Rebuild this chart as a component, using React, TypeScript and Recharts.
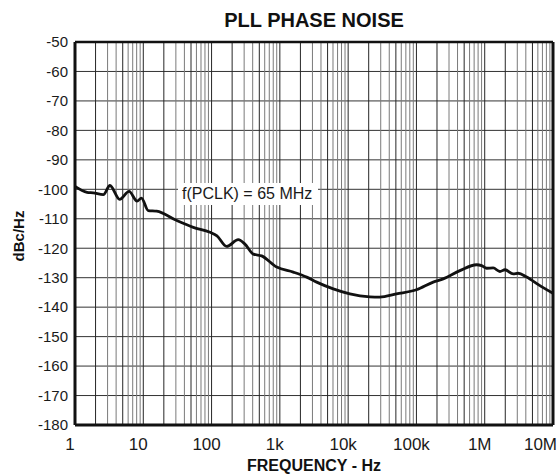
import React from 'react';
import { LineChart, Line, XAxis, YAxis, CartesianGrid, ReferenceLine } from 'recharts';

const chartTitle = 'PLL PHASE NOISE';
const xAxisTitle = 'FREQUENCY - Hz';
const yAxisTitle = 'dBc/Hz';
const annotationText = 'f(PCLK) = 65 MHz';

const frequencyHz = [
  1, 1.5, 1.85, 2.6, 3.25, 4.5, 6.2, 8.1, 9.4, 11.8, 15.7, 31, 54, 95, 120, 166, 246, 308, 410, 540,
  900, 1570, 2470, 3460, 6050, 10600, 20800, 29000, 51000, 100000, 176000, 247000, 433000, 760000,
  900000, 1070000, 1330000, 1670000, 1980000, 2610000, 3090000, 4110000, 6430000, 10000000,
];
const phaseNoise = [
  -99.0, -101.0, -101.2, -101.8, -98.7, -103.4, -100.7, -104.0, -103.0, -107.2, -107.4, -110.6, -112.9,
  -114.6, -115.8, -119.4, -117.1, -118.6, -122.0, -122.6, -126.4, -128.1, -129.8, -131.5, -133.8, -135.5,
  -136.5, -136.6, -135.5, -134.1, -131.5, -130.4, -127.6, -125.6, -125.9, -126.8, -126.7, -127.9, -127.3,
  -128.7, -128.5, -129.8, -132.7, -135.3,
];

const xTicks = [1, 10, 100, 1000, 10000, 100000, 1000000, 10000000];
const xTickLabels = ['1', '10', '100', '1k', '10k', '100k', '1M', '10M'];
const yTicks = [-180, -170, -160, -150, -140, -130, -120, -110, -100, -90, -80, -70, -60, -50];
const gridMultipliers = [2, 3, 4, 5, 6, 7, 8, 9];
const darkMultipliers = [2, 5];

const data = frequencyHz.map((f, i) => ({ f, v: phaseNoise[i] }));

const gridLines: { x: number; dark: boolean }[] = [];
xTicks.forEach((d, i) => {
  if (i > 0) gridLines.push({ x: d, dark: true });
  if (i < xTicks.length - 1) {
    gridMultipliers.forEach((m) => gridLines.push({ x: m * d, dark: darkMultipliers.includes(m) }));
  }
});

const FONT = '"Liberation Sans", Arial, Helvetica, sans-serif';

function XTick(props: any) {
  const { x, y, payload, index } = props;
  const isLast = index === xTicks.length - 1;
  const label = xTickLabels[xTicks.indexOf(payload.value)] ?? '';
  return (
    <text
      x={isLast ? 557 : x - 5}
      y={y}
      dy="0.71em"
      textAnchor={isLast ? 'end' : 'middle'}
      fontFamily={FONT}
      fontSize={17}
      fill="#1a1a1a"
    >
      {label}
    </text>
  );
}

export default function App() {
  return (
    <div style={{ position: 'absolute', left: 0, top: 0, width: 558, height: 475, background: '#fff' }}>
      <LineChart width={558} height={475} data={data} margin={{ top: 42, right: 5, bottom: 0, left: 0 }}>
        <CartesianGrid vertical={false} stroke="#333" strokeWidth={1} />
        {gridLines.map((g) => (
          <ReferenceLine
            key={'g' + g.x}
            x={g.x}
            stroke={g.dark ? '#262626' : '#7a7a7a'}
            strokeWidth={1}
          />
        ))}
        <XAxis
          dataKey="f"
          type="number"
          scale="log"
          domain={[1, 10000000]}
          ticks={xTicks}
          interval={0}
          height={50}
          tickLine={false}
          tickSize={6}
          tickMargin={7}
          axisLine={{ stroke: '#111', strokeWidth: 3 }}
          tick={<XTick />}
        />
        <YAxis
          type="number"
          domain={[-180, -50]}
          ticks={yTicks}
          interval={0}
          width={75}
          tickLine={false}
          tickSize={5}
          tickMargin={2}
          axisLine={{ stroke: '#111', strokeWidth: 3 }}
          tick={{ fontSize: 15, fill: '#1a1a1a', fontFamily: FONT }}
        />
        <ReferenceLine y={-50} stroke="#111" strokeWidth={2.5} />
        <ReferenceLine x={10000000} stroke="#111" strokeWidth={3} />
        <Line
          dataKey="v"
          type="monotone"
          stroke="#111"
          strokeWidth={2.8}
          dot={false}
          isAnimationActive={false}
        />
      </LineChart>
      <svg
        width={558}
        height={475}
        style={{ position: 'absolute', left: 0, top: 0, pointerEvents: 'none' }}
      >
        <text x={314} y={27} textAnchor="middle" fontFamily={FONT} fontWeight="bold" fontSize={20} fill="#111">
          {chartTitle}
        </text>
        <text x={314} y={471} textAnchor="middle" fontFamily={FONT} fontWeight="bold" fontSize={16} fill="#111">
          {xAxisTitle}
        </text>
        <text
          x={0}
          y={0}
          transform="translate(24,236) rotate(-90)"
          textAnchor="middle"
          fontFamily={FONT}
          fontWeight="bold"
          fontSize={15}
          fill="#111"
        >
          {yAxisTitle}
        </text>
        <rect x={178} y={183} width={140} height={22} fill="#fff" />
        <text x={182} y={199} fontFamily={FONT} fontSize={16} fill="#1a1a1a">
          {annotationText}
        </text>
      </svg>
    </div>
  );
}
